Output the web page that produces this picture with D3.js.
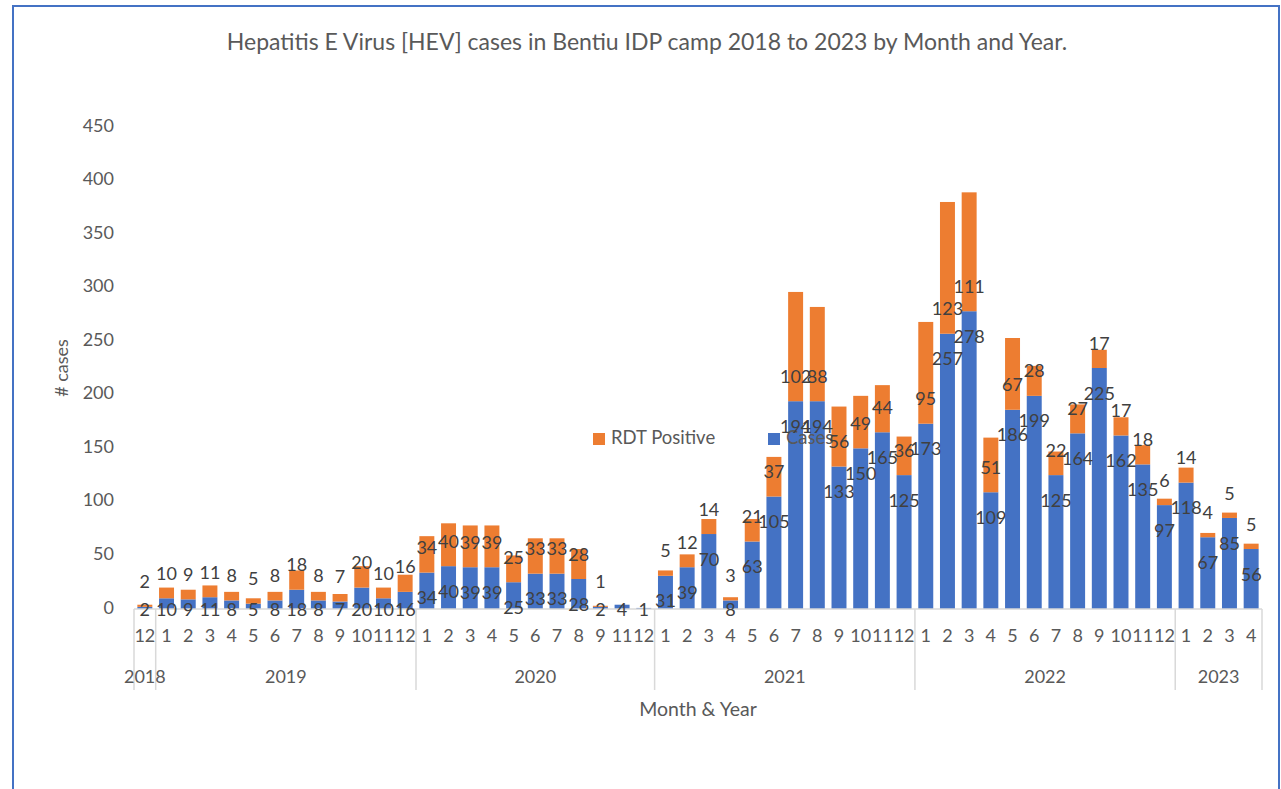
<!DOCTYPE html>
<html>
<head>
<meta charset="utf-8">
<script src="https://cdn.jsdelivr.net/npm/d3@7"></script>
<style>
  html, body { margin: 0; padding: 0; background: #fff; }
  svg { display: block; }
  text { font-family: Lato, "Open Sans", sans-serif; }
</style>
</head>
<body>
<svg width="1281" height="789"></svg>
<script>
// categories: year groups and the months that appear in each
const years = ["2018", "2019", "2020", "2021", "2022", "2023"];
const monthsByYear = [
    ["12"],
    ["1", "2", "3", "4", "5", "6", "7", "8", "9", "10", "11", "12"],
    ["1", "2", "3", "4", "5", "6", "7", "8", "9", "11", "12"],
    ["1", "2", "3", "4", "5", "6", "7", "8", "9", "10", "11", "12"],
    ["1", "2", "3", "4", "5", "6", "7", "8", "9", "10", "11", "12"],
    ["1", "2", "3", "4"]
];

// series (same order as the categories above)
const cases = [
    2,
    10, 9, 11, 8, 5, 8, 18, 8, 7, 20, 10, 16,
    34, 40, 39, 39, 25, 33, 33, 28, 2, 4, 1,
    31, 39, 70, 8, 63, 105, 194, 194, 133, 150, 165, 125,
    173, 257, 278, 109, 186, 199, 125, 164, 225, 162, 135, 97,
    118, 67, 85, 56
];
const rdtPositive = [
    2,
    10, 9, 11, 8, 5, 8, 18, 8, 7, 20, 10, 16,
    34, 40, 39, 39, 25, 33, 33, 28, 1, null, null,
    5, 12, 14, 3, 21, 37, 102, 88, 56, 49, 44, 36,
    95, 123, 111, 51, 67, 28, 22, 27, 17, 17, 18, 6,
    14, 4, 5, 5
];
const yTicks = [0, 50, 100, 150, 200, 250, 300, 350, 400, 450];

const title = "Hepatitis E Virus [HEV] cases in Bentiu IDP camp 2018 to 2023 by Month and Year.";

const svg = d3.select("svg"),
    width = +svg.attr("width"),
    height = +svg.attr("height");

const blue = "#4472C4", orange = "#ED7D31";
const axisGrey = "#d9d9d9", tickText = "#595959", labelText = "#404040";

// flatten categories
const rows = [];
years.forEach(function (y, gi) {
    monthsByYear[gi].forEach(function (m) {
        rows.push({key: y + "-" + m, year: y, month: m, group: gi});
    });
});
rows.forEach(function (d, i) {
    d.cases = cases[i];
    d.rdt = rdtPositive[i];
});

const x = d3.scaleBand()
    .domain(rows.map(function (d) { return d.key; }))
    .range([134, 1262])
    .paddingInner(0.31)
    .paddingOuter(0.155);

const y = d3.scaleLinear()
    .domain([0, 450])
    .range([609, 127]);

// chart border
svg.append("rect")
    .attr("x", 13).attr("y", 6)
    .attr("width", 1266).attr("height", height + 10)
    .attr("fill", "none")
    .attr("stroke", "#4472C4")
    .attr("stroke-width", 2);

svg.append("text")
    .attr("x", 647).attr("y", 44)
    .attr("text-anchor", "middle")
    .attr("dominant-baseline", "middle")
    .attr("fill", tickText)
    .style("font-size", "23px")
    .text(title);

// y axis labels (no axis line, no gridlines)
svg.append("g").selectAll("text")
    .data(yTicks)
    .enter().append("text")
    .attr("x", 114)
    .attr("y", function (d) { return y(d); })
    .attr("text-anchor", "end")
    .attr("dominant-baseline", "middle")
    .attr("fill", tickText)
    .style("font-size", "18px")
    .text(function (d) { return d; });

svg.append("text")
    .attr("transform", "translate(63," + y(225) + ") rotate(-90)")
    .attr("text-anchor", "middle")
    .attr("dominant-baseline", "middle")
    .attr("fill", tickText)
    .style("font-size", "18px")
    .text("# cases");

// bars
const bars = svg.append("g");
const gap = (x.step() - x.bandwidth()) / 2;

bars.selectAll("rect.cases")
    .data(rows)
    .enter().append("rect")
    .attr("class", "cases")
    .attr("x", function (d) { return x(d.key); })
    .attr("width", x.bandwidth())
    .attr("y", function (d) { return y(d.cases); })
    .attr("height", function (d) { return y(0) - y(d.cases); })
    .attr("fill", blue);

bars.selectAll("rect.rdt")
    .data(rows.filter(function (d) { return d.rdt; }))
    .enter().append("rect")
    .attr("class", "rdt")
    .attr("x", function (d) { return x(d.key); })
    .attr("width", x.bandwidth())
    .attr("y", function (d) { return y(d.cases + d.rdt); })
    .attr("height", function (d) { return y(d.cases) - y(d.cases + d.rdt); })
    .attr("fill", orange);

// x axis baseline and year separators
const axis = svg.append("g").attr("stroke", axisGrey).attr("stroke-width", 1.5);
axis.append("line")
    .attr("x1", x.range()[0]).attr("x2", x.range()[1])
    .attr("y1", y(0)).attr("y2", y(0));

const groupStarts = [];
years.forEach(function (yr, gi) {
    const members = rows.filter(function (d) { return d.group === gi; });
    const x0 = x(members[0].key) - gap;
    const x1 = x(members[members.length - 1].key) + x.bandwidth() + gap;
    groupStarts.push({year: yr, x0: x0, x1: x1});
});
const edges = [groupStarts[0].x0].concat(groupStarts.map(function (g) { return g.x1; }));
axis.selectAll("line.sep")
    .data(edges)
    .enter().append("line")
    .attr("class", "sep")
    .attr("x1", function (d) { return d; }).attr("x2", function (d) { return d; })
    .attr("y1", y(0)).attr("y2", 690);

svg.append("g").selectAll("text")
    .data(rows)
    .enter().append("text")
    .attr("x", function (d) { return x(d.key) + x.bandwidth() / 2; })
    .attr("y", 637)
    .attr("text-anchor", "middle")
    .attr("dominant-baseline", "middle")
    .attr("fill", tickText)
    .style("font-size", "18px")
    .text(function (d) { return d.month; });

svg.append("g").selectAll("text")
    .data(groupStarts)
    .enter().append("text")
    .attr("x", function (d) { return (d.x0 + d.x1) / 2; })
    .attr("y", 678)
    .attr("text-anchor", "middle")
    .attr("dominant-baseline", "middle")
    .attr("fill", tickText)
    .style("font-size", "18px")
    .text(function (d) { return d.year; });

svg.append("text")
    .attr("x", (x.range()[0] + x.range()[1]) / 2)
    .attr("y", 711)
    .attr("text-anchor", "middle")
    .attr("dominant-baseline", "middle")
    .attr("fill", tickText)
    .style("font-size", "19.5px")
    .text("Month & Year");

// legend (sits inside the plot, as in the original)
const legend = svg.append("g");
const legendItems = [
    {name: "RDT Positive", color: orange, x: 593},
    {name: "Cases", color: blue, x: 768}
];
legendItems.forEach(function (item) {
    legend.append("rect")
        .attr("x", item.x).attr("y", 433)
        .attr("width", 12).attr("height", 12)
        .attr("fill", item.color);
    legend.append("text")
        .attr("x", item.x + 18).attr("y", 439)
        .attr("dominant-baseline", "middle")
        .attr("fill", tickText)
        .style("font-size", "18.5px")
        .text(item.name);
});

// data labels
const labels = svg.append("g")
    .attr("fill", labelText)
    .style("font-size", "18px")
    .attr("text-anchor", "middle")
    .attr("dominant-baseline", "middle");

labels.selectAll("text.cl")
    .data(rows)
    .enter().append("text")
    .attr("class", "cl")
    .attr("x", function (d) { return x(d.key) + x.bandwidth() / 2; })
    .attr("y", function (d) { return Math.min(y(d.cases) + 27, y(0) + 2); })
    .text(function (d) { return d.cases; });

labels.selectAll("text.rl")
    .data(rows.filter(function (d) { return d.rdt; }))
    .enter().append("text")
    .attr("class", "rl")
    .attr("x", function (d) { return x(d.key) + x.bandwidth() / 2; })
    .attr("y", function (d) { return y(d.cases) - 23; })
    .text(function (d) { return d.rdt; });
</script>
</body>
</html>
